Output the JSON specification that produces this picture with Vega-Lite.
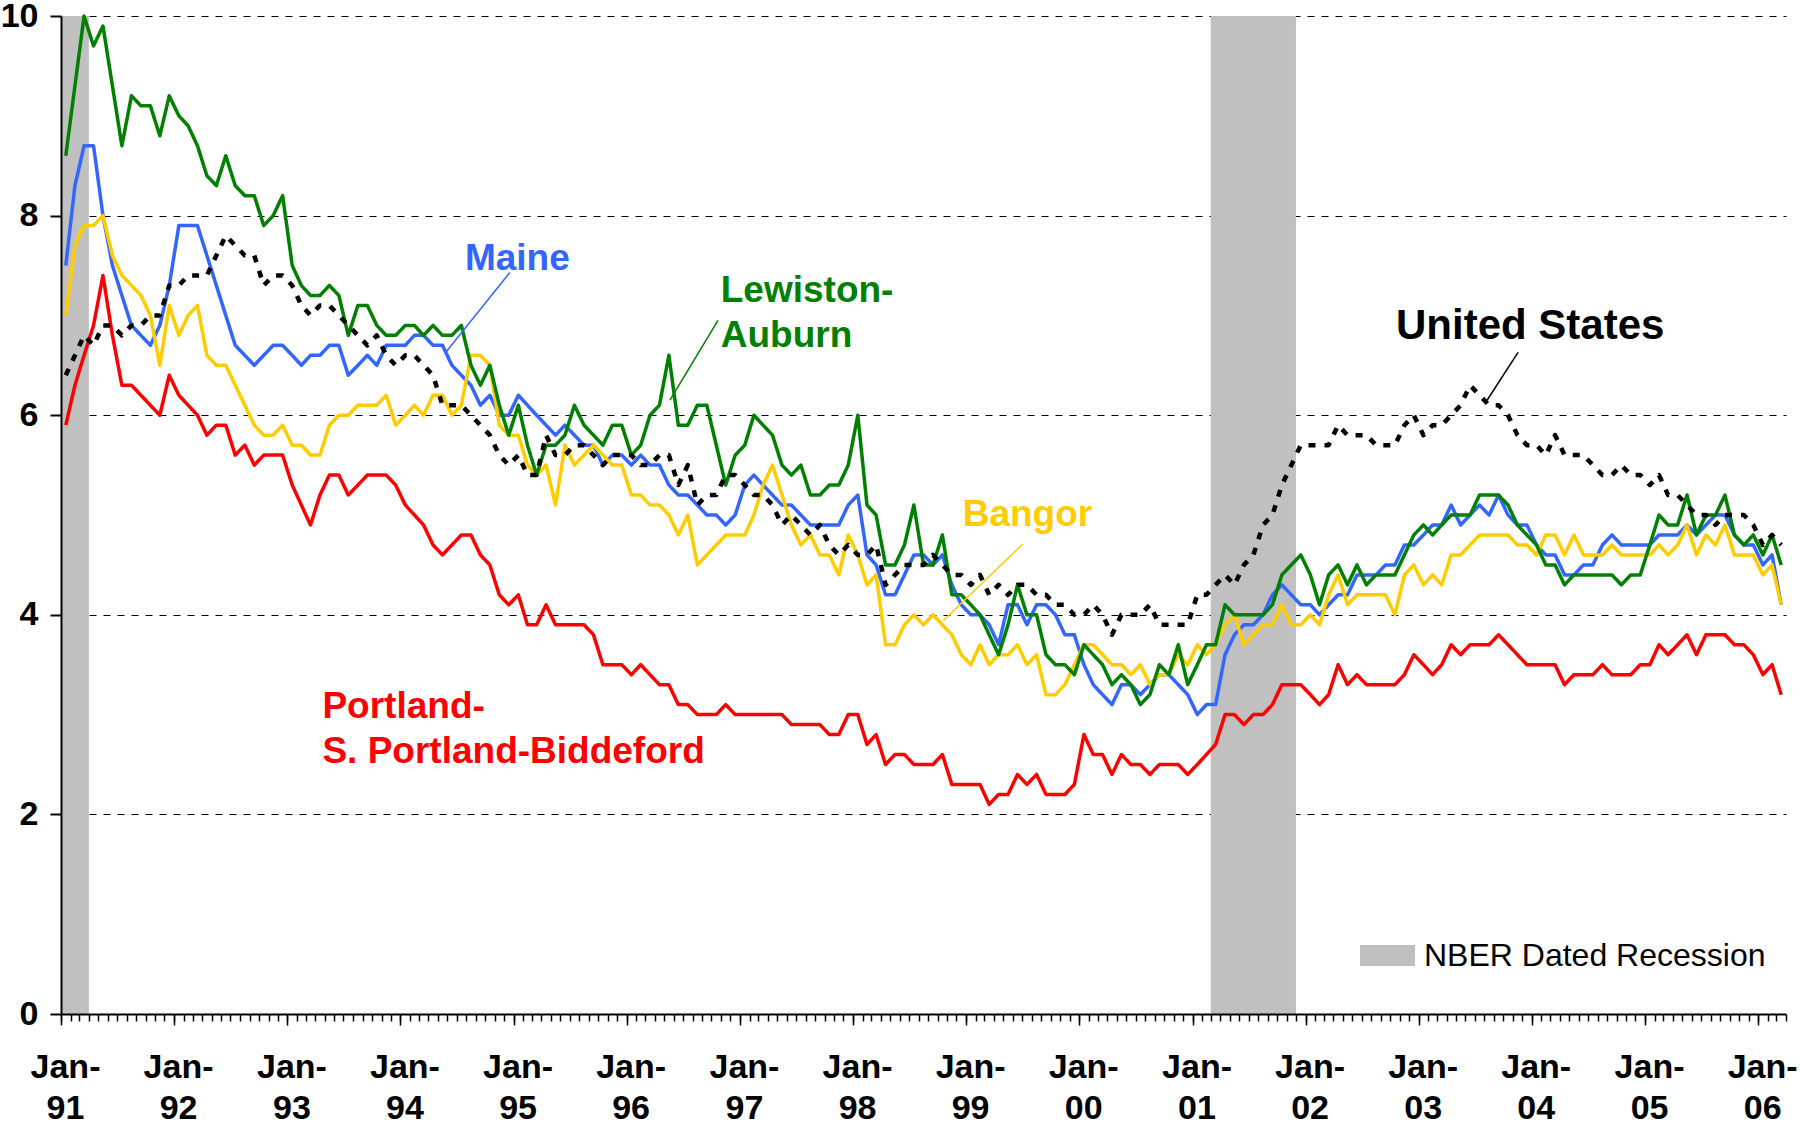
{
"$schema": "https://vega.github.io/schema/vega-lite/v6.json",
"width": 1725, "height": 998,
"autosize": {"type": "none"},
"padding": {"left": 61, "top": 16, "right": 15, "bottom": 114},
"background": "white",
"config": {"view": {"stroke": null}, "font": "Liberation Sans"},
"datasets": {
"rates": [
{"m":"1991-01","us":6.4,"maine":7.5,"lewiston":8.6,"bangor":7.0,"portland":5.9},
{"m":"1991-02","us":6.6,"maine":8.3,"lewiston":9.3,"bangor":7.7,"portland":6.3},
{"m":"1991-03","us":6.8,"maine":8.7,"lewiston":10.0,"bangor":7.9,"portland":6.6},
{"m":"1991-04","us":6.7,"maine":8.7,"lewiston":9.7,"bangor":7.9,"portland":6.9},
{"m":"1991-05","us":6.9,"maine":8.0,"lewiston":9.9,"bangor":8.0,"portland":7.4},
{"m":"1991-06","us":6.9,"maine":7.5,"lewiston":9.3,"bangor":7.6,"portland":6.8},
{"m":"1991-07","us":6.8,"maine":7.2,"lewiston":8.7,"bangor":7.4,"portland":6.3},
{"m":"1991-08","us":6.9,"maine":6.9,"lewiston":9.2,"bangor":7.3,"portland":6.3},
{"m":"1991-09","us":6.9,"maine":6.8,"lewiston":9.1,"bangor":7.2,"portland":6.2},
{"m":"1991-10","us":7.0,"maine":6.7,"lewiston":9.1,"bangor":7.0,"portland":6.1},
{"m":"1991-11","us":7.0,"maine":6.9,"lewiston":8.8,"bangor":6.5,"portland":6.0},
{"m":"1991-12","us":7.3,"maine":7.3,"lewiston":9.2,"bangor":7.1,"portland":6.4},
{"m":"1992-01","us":7.3,"maine":7.9,"lewiston":9.0,"bangor":6.8,"portland":6.2},
{"m":"1992-02","us":7.4,"maine":7.9,"lewiston":8.9,"bangor":7.0,"portland":6.1},
{"m":"1992-03","us":7.4,"maine":7.9,"lewiston":8.7,"bangor":7.1,"portland":6.0},
{"m":"1992-04","us":7.4,"maine":7.6,"lewiston":8.4,"bangor":6.6,"portland":5.8},
{"m":"1992-05","us":7.6,"maine":7.3,"lewiston":8.3,"bangor":6.5,"portland":5.9},
{"m":"1992-06","us":7.8,"maine":7.0,"lewiston":8.6,"bangor":6.5,"portland":5.9},
{"m":"1992-07","us":7.7,"maine":6.7,"lewiston":8.3,"bangor":6.3,"portland":5.6},
{"m":"1992-08","us":7.6,"maine":6.6,"lewiston":8.2,"bangor":6.1,"portland":5.7},
{"m":"1992-09","us":7.6,"maine":6.5,"lewiston":8.2,"bangor":5.9,"portland":5.5},
{"m":"1992-10","us":7.3,"maine":6.6,"lewiston":7.9,"bangor":5.8,"portland":5.6},
{"m":"1992-11","us":7.4,"maine":6.7,"lewiston":8.0,"bangor":5.8,"portland":5.6},
{"m":"1992-12","us":7.4,"maine":6.7,"lewiston":8.2,"bangor":5.9,"portland":5.6},
{"m":"1993-01","us":7.3,"maine":6.6,"lewiston":7.5,"bangor":5.7,"portland":5.3},
{"m":"1993-02","us":7.1,"maine":6.5,"lewiston":7.3,"bangor":5.7,"portland":5.1},
{"m":"1993-03","us":7.0,"maine":6.6,"lewiston":7.2,"bangor":5.6,"portland":4.9},
{"m":"1993-04","us":7.1,"maine":6.6,"lewiston":7.2,"bangor":5.6,"portland":5.2},
{"m":"1993-05","us":7.1,"maine":6.7,"lewiston":7.3,"bangor":5.9,"portland":5.4},
{"m":"1993-06","us":7.0,"maine":6.7,"lewiston":7.2,"bangor":6.0,"portland":5.4},
{"m":"1993-07","us":6.9,"maine":6.4,"lewiston":6.8,"bangor":6.0,"portland":5.2},
{"m":"1993-08","us":6.8,"maine":6.5,"lewiston":7.1,"bangor":6.1,"portland":5.3},
{"m":"1993-09","us":6.7,"maine":6.6,"lewiston":7.1,"bangor":6.1,"portland":5.4},
{"m":"1993-10","us":6.8,"maine":6.5,"lewiston":6.9,"bangor":6.1,"portland":5.4},
{"m":"1993-11","us":6.6,"maine":6.7,"lewiston":6.8,"bangor":6.2,"portland":5.4},
{"m":"1993-12","us":6.5,"maine":6.7,"lewiston":6.8,"bangor":5.9,"portland":5.3},
{"m":"1994-01","us":6.6,"maine":6.7,"lewiston":6.9,"bangor":6.0,"portland":5.1},
{"m":"1994-02","us":6.6,"maine":6.8,"lewiston":6.9,"bangor":6.1,"portland":5.0},
{"m":"1994-03","us":6.5,"maine":6.8,"lewiston":6.8,"bangor":6.0,"portland":4.9},
{"m":"1994-04","us":6.4,"maine":6.7,"lewiston":6.9,"bangor":6.2,"portland":4.7},
{"m":"1994-05","us":6.1,"maine":6.7,"lewiston":6.8,"bangor":6.2,"portland":4.6},
{"m":"1994-06","us":6.1,"maine":6.5,"lewiston":6.8,"bangor":6.0,"portland":4.7},
{"m":"1994-07","us":6.1,"maine":6.4,"lewiston":6.9,"bangor":6.1,"portland":4.8},
{"m":"1994-08","us":6.0,"maine":6.3,"lewiston":6.5,"bangor":6.6,"portland":4.8},
{"m":"1994-09","us":5.9,"maine":6.1,"lewiston":6.3,"bangor":6.6,"portland":4.6},
{"m":"1994-10","us":5.8,"maine":6.2,"lewiston":6.5,"bangor":6.5,"portland":4.5},
{"m":"1994-11","us":5.6,"maine":6.0,"lewiston":6.1,"bangor":5.9,"portland":4.2},
{"m":"1994-12","us":5.5,"maine":6.0,"lewiston":5.8,"bangor":5.8,"portland":4.1},
{"m":"1995-01","us":5.6,"maine":6.2,"lewiston":6.1,"bangor":5.8,"portland":4.2},
{"m":"1995-02","us":5.4,"maine":6.1,"lewiston":5.7,"bangor":5.5,"portland":3.9},
{"m":"1995-03","us":5.4,"maine":6.0,"lewiston":5.4,"bangor":5.4,"portland":3.9},
{"m":"1995-04","us":5.8,"maine":5.9,"lewiston":5.7,"bangor":5.5,"portland":4.1},
{"m":"1995-05","us":5.6,"maine":5.8,"lewiston":5.7,"bangor":5.1,"portland":3.9},
{"m":"1995-06","us":5.6,"maine":5.9,"lewiston":5.8,"bangor":5.7,"portland":3.9},
{"m":"1995-07","us":5.7,"maine":5.8,"lewiston":6.1,"bangor":5.5,"portland":3.9},
{"m":"1995-08","us":5.7,"maine":5.7,"lewiston":5.9,"bangor":5.6,"portland":3.9},
{"m":"1995-09","us":5.6,"maine":5.7,"lewiston":5.8,"bangor":5.7,"portland":3.8},
{"m":"1995-10","us":5.5,"maine":5.5,"lewiston":5.7,"bangor":5.6,"portland":3.5},
{"m":"1995-11","us":5.6,"maine":5.6,"lewiston":5.9,"bangor":5.5,"portland":3.5},
{"m":"1995-12","us":5.6,"maine":5.6,"lewiston":5.9,"bangor":5.5,"portland":3.5},
{"m":"1996-01","us":5.6,"maine":5.5,"lewiston":5.6,"bangor":5.2,"portland":3.4},
{"m":"1996-02","us":5.5,"maine":5.6,"lewiston":5.7,"bangor":5.2,"portland":3.5},
{"m":"1996-03","us":5.5,"maine":5.5,"lewiston":6.0,"bangor":5.1,"portland":3.4},
{"m":"1996-04","us":5.6,"maine":5.5,"lewiston":6.1,"bangor":5.1,"portland":3.3},
{"m":"1996-05","us":5.6,"maine":5.3,"lewiston":6.6,"bangor":5.0,"portland":3.3},
{"m":"1996-06","us":5.3,"maine":5.2,"lewiston":5.9,"bangor":4.8,"portland":3.1},
{"m":"1996-07","us":5.5,"maine":5.2,"lewiston":5.9,"bangor":5.0,"portland":3.1},
{"m":"1996-08","us":5.1,"maine":5.1,"lewiston":6.1,"bangor":4.5,"portland":3.0},
{"m":"1996-09","us":5.2,"maine":5.0,"lewiston":6.1,"bangor":4.6,"portland":3.0},
{"m":"1996-10","us":5.2,"maine":5.0,"lewiston":5.7,"bangor":4.7,"portland":3.0},
{"m":"1996-11","us":5.4,"maine":4.9,"lewiston":5.3,"bangor":4.8,"portland":3.1},
{"m":"1996-12","us":5.4,"maine":5.0,"lewiston":5.6,"bangor":4.8,"portland":3.0},
{"m":"1997-01","us":5.3,"maine":5.3,"lewiston":5.7,"bangor":4.8,"portland":3.0},
{"m":"1997-02","us":5.2,"maine":5.4,"lewiston":6.0,"bangor":5.0,"portland":3.0},
{"m":"1997-03","us":5.2,"maine":5.3,"lewiston":5.9,"bangor":5.3,"portland":3.0},
{"m":"1997-04","us":5.1,"maine":5.2,"lewiston":5.8,"bangor":5.5,"portland":3.0},
{"m":"1997-05","us":4.9,"maine":5.1,"lewiston":5.5,"bangor":5.2,"portland":3.0},
{"m":"1997-06","us":5.0,"maine":5.1,"lewiston":5.4,"bangor":4.9,"portland":2.9},
{"m":"1997-07","us":4.9,"maine":5.0,"lewiston":5.5,"bangor":4.7,"portland":2.9},
{"m":"1997-08","us":4.8,"maine":4.9,"lewiston":5.2,"bangor":4.8,"portland":2.9},
{"m":"1997-09","us":4.9,"maine":4.9,"lewiston":5.2,"bangor":4.6,"portland":2.9},
{"m":"1997-10","us":4.7,"maine":4.9,"lewiston":5.3,"bangor":4.6,"portland":2.8},
{"m":"1997-11","us":4.6,"maine":4.9,"lewiston":5.3,"bangor":4.4,"portland":2.8},
{"m":"1997-12","us":4.7,"maine":5.1,"lewiston":5.5,"bangor":4.8,"portland":3.0},
{"m":"1998-01","us":4.6,"maine":5.2,"lewiston":6.0,"bangor":4.6,"portland":3.0},
{"m":"1998-02","us":4.6,"maine":4.6,"lewiston":5.1,"bangor":4.3,"portland":2.7},
{"m":"1998-03","us":4.7,"maine":4.5,"lewiston":5.0,"bangor":4.4,"portland":2.8},
{"m":"1998-04","us":4.3,"maine":4.2,"lewiston":4.5,"bangor":3.7,"portland":2.5},
{"m":"1998-05","us":4.4,"maine":4.2,"lewiston":4.5,"bangor":3.7,"portland":2.6},
{"m":"1998-06","us":4.5,"maine":4.4,"lewiston":4.7,"bangor":3.9,"portland":2.6},
{"m":"1998-07","us":4.5,"maine":4.6,"lewiston":5.1,"bangor":4.0,"portland":2.5},
{"m":"1998-08","us":4.5,"maine":4.6,"lewiston":4.5,"bangor":3.9,"portland":2.5},
{"m":"1998-09","us":4.6,"maine":4.5,"lewiston":4.5,"bangor":4.0,"portland":2.5},
{"m":"1998-10","us":4.5,"maine":4.6,"lewiston":4.8,"bangor":3.9,"portland":2.6},
{"m":"1998-11","us":4.4,"maine":4.3,"lewiston":4.2,"bangor":3.8,"portland":2.3},
{"m":"1998-12","us":4.4,"maine":4.1,"lewiston":4.2,"bangor":3.6,"portland":2.3},
{"m":"1999-01","us":4.3,"maine":4.0,"lewiston":4.1,"bangor":3.5,"portland":2.3},
{"m":"1999-02","us":4.4,"maine":4.0,"lewiston":4.0,"bangor":3.7,"portland":2.3},
{"m":"1999-03","us":4.2,"maine":3.9,"lewiston":3.8,"bangor":3.5,"portland":2.1},
{"m":"1999-04","us":4.3,"maine":3.7,"lewiston":3.6,"bangor":3.6,"portland":2.2},
{"m":"1999-05","us":4.2,"maine":4.1,"lewiston":3.9,"bangor":3.6,"portland":2.2},
{"m":"1999-06","us":4.3,"maine":4.1,"lewiston":4.3,"bangor":3.7,"portland":2.4},
{"m":"1999-07","us":4.3,"maine":3.9,"lewiston":4.0,"bangor":3.5,"portland":2.3},
{"m":"1999-08","us":4.2,"maine":4.1,"lewiston":4.0,"bangor":3.6,"portland":2.4},
{"m":"1999-09","us":4.2,"maine":4.1,"lewiston":3.6,"bangor":3.2,"portland":2.2},
{"m":"1999-10","us":4.1,"maine":4.0,"lewiston":3.5,"bangor":3.2,"portland":2.2},
{"m":"1999-11","us":4.1,"maine":3.8,"lewiston":3.5,"bangor":3.3,"portland":2.2},
{"m":"1999-12","us":4.0,"maine":3.8,"lewiston":3.4,"bangor":3.5,"portland":2.3},
{"m":"2000-01","us":4.0,"maine":3.5,"lewiston":3.7,"bangor":3.7,"portland":2.8},
{"m":"2000-02","us":4.1,"maine":3.3,"lewiston":3.6,"bangor":3.7,"portland":2.6},
{"m":"2000-03","us":4.0,"maine":3.2,"lewiston":3.5,"bangor":3.6,"portland":2.6},
{"m":"2000-04","us":3.8,"maine":3.1,"lewiston":3.3,"bangor":3.5,"portland":2.4},
{"m":"2000-05","us":4.0,"maine":3.3,"lewiston":3.4,"bangor":3.5,"portland":2.6},
{"m":"2000-06","us":4.0,"maine":3.3,"lewiston":3.3,"bangor":3.4,"portland":2.5},
{"m":"2000-07","us":4.0,"maine":3.2,"lewiston":3.1,"bangor":3.5,"portland":2.5},
{"m":"2000-08","us":4.1,"maine":3.3,"lewiston":3.2,"bangor":3.3,"portland":2.4},
{"m":"2000-09","us":3.9,"maine":3.4,"lewiston":3.5,"bangor":3.4,"portland":2.5},
{"m":"2000-10","us":3.9,"maine":3.4,"lewiston":3.4,"bangor":3.4,"portland":2.5},
{"m":"2000-11","us":3.9,"maine":3.3,"lewiston":3.7,"bangor":3.6,"portland":2.5},
{"m":"2000-12","us":3.9,"maine":3.2,"lewiston":3.3,"bangor":3.5,"portland":2.4},
{"m":"2001-01","us":4.2,"maine":3.0,"lewiston":3.5,"bangor":3.7,"portland":2.5},
{"m":"2001-02","us":4.2,"maine":3.1,"lewiston":3.7,"bangor":3.6,"portland":2.6},
{"m":"2001-03","us":4.3,"maine":3.1,"lewiston":3.7,"bangor":3.7,"portland":2.7},
{"m":"2001-04","us":4.4,"maine":3.6,"lewiston":4.1,"bangor":3.9,"portland":3.0},
{"m":"2001-05","us":4.3,"maine":3.8,"lewiston":4.0,"bangor":4.0,"portland":3.0},
{"m":"2001-06","us":4.5,"maine":3.9,"lewiston":4.0,"bangor":3.7,"portland":2.9},
{"m":"2001-07","us":4.6,"maine":3.9,"lewiston":4.0,"bangor":3.8,"portland":3.0},
{"m":"2001-08","us":4.9,"maine":4.0,"lewiston":4.0,"bangor":3.9,"portland":3.0},
{"m":"2001-09","us":5.0,"maine":4.2,"lewiston":4.1,"bangor":3.9,"portland":3.1},
{"m":"2001-10","us":5.3,"maine":4.3,"lewiston":4.4,"bangor":4.1,"portland":3.3},
{"m":"2001-11","us":5.5,"maine":4.2,"lewiston":4.5,"bangor":3.9,"portland":3.3},
{"m":"2001-12","us":5.7,"maine":4.1,"lewiston":4.6,"bangor":3.9,"portland":3.3},
{"m":"2002-01","us":5.7,"maine":4.1,"lewiston":4.4,"bangor":4.0,"portland":3.2},
{"m":"2002-02","us":5.7,"maine":4.0,"lewiston":4.1,"bangor":3.9,"portland":3.1},
{"m":"2002-03","us":5.7,"maine":4.1,"lewiston":4.4,"bangor":4.2,"portland":3.2},
{"m":"2002-04","us":5.9,"maine":4.2,"lewiston":4.5,"bangor":4.4,"portland":3.5},
{"m":"2002-05","us":5.8,"maine":4.2,"lewiston":4.3,"bangor":4.1,"portland":3.3},
{"m":"2002-06","us":5.8,"maine":4.4,"lewiston":4.5,"bangor":4.2,"portland":3.4},
{"m":"2002-07","us":5.8,"maine":4.4,"lewiston":4.3,"bangor":4.2,"portland":3.3},
{"m":"2002-08","us":5.7,"maine":4.4,"lewiston":4.4,"bangor":4.2,"portland":3.3},
{"m":"2002-09","us":5.7,"maine":4.5,"lewiston":4.4,"bangor":4.2,"portland":3.3},
{"m":"2002-10","us":5.7,"maine":4.5,"lewiston":4.4,"bangor":4.0,"portland":3.3},
{"m":"2002-11","us":5.9,"maine":4.7,"lewiston":4.6,"bangor":4.4,"portland":3.4},
{"m":"2002-12","us":6.0,"maine":4.7,"lewiston":4.8,"bangor":4.5,"portland":3.6},
{"m":"2003-01","us":5.8,"maine":4.8,"lewiston":4.9,"bangor":4.3,"portland":3.5},
{"m":"2003-02","us":5.9,"maine":4.9,"lewiston":4.8,"bangor":4.4,"portland":3.4},
{"m":"2003-03","us":5.9,"maine":4.9,"lewiston":4.9,"bangor":4.3,"portland":3.5},
{"m":"2003-04","us":6.0,"maine":5.1,"lewiston":5.0,"bangor":4.6,"portland":3.7},
{"m":"2003-05","us":6.1,"maine":4.9,"lewiston":5.0,"bangor":4.6,"portland":3.6},
{"m":"2003-06","us":6.3,"maine":5.0,"lewiston":5.0,"bangor":4.7,"portland":3.7},
{"m":"2003-07","us":6.2,"maine":5.1,"lewiston":5.2,"bangor":4.8,"portland":3.7},
{"m":"2003-08","us":6.1,"maine":5.0,"lewiston":5.2,"bangor":4.8,"portland":3.7},
{"m":"2003-09","us":6.1,"maine":5.2,"lewiston":5.2,"bangor":4.8,"portland":3.8},
{"m":"2003-10","us":6.0,"maine":5.0,"lewiston":5.1,"bangor":4.8,"portland":3.7},
{"m":"2003-11","us":5.8,"maine":4.9,"lewiston":4.9,"bangor":4.7,"portland":3.6},
{"m":"2003-12","us":5.7,"maine":4.9,"lewiston":4.8,"bangor":4.7,"portland":3.5},
{"m":"2004-01","us":5.7,"maine":4.7,"lewiston":4.7,"bangor":4.6,"portland":3.5},
{"m":"2004-02","us":5.6,"maine":4.6,"lewiston":4.5,"bangor":4.8,"portland":3.5},
{"m":"2004-03","us":5.8,"maine":4.6,"lewiston":4.5,"bangor":4.8,"portland":3.5},
{"m":"2004-04","us":5.6,"maine":4.4,"lewiston":4.3,"bangor":4.6,"portland":3.3},
{"m":"2004-05","us":5.6,"maine":4.4,"lewiston":4.4,"bangor":4.8,"portland":3.4},
{"m":"2004-06","us":5.6,"maine":4.5,"lewiston":4.4,"bangor":4.6,"portland":3.4},
{"m":"2004-07","us":5.5,"maine":4.5,"lewiston":4.4,"bangor":4.6,"portland":3.4},
{"m":"2004-08","us":5.4,"maine":4.7,"lewiston":4.4,"bangor":4.6,"portland":3.5},
{"m":"2004-09","us":5.4,"maine":4.8,"lewiston":4.4,"bangor":4.7,"portland":3.4},
{"m":"2004-10","us":5.5,"maine":4.7,"lewiston":4.3,"bangor":4.6,"portland":3.4},
{"m":"2004-11","us":5.4,"maine":4.7,"lewiston":4.4,"bangor":4.6,"portland":3.4},
{"m":"2004-12","us":5.4,"maine":4.7,"lewiston":4.4,"bangor":4.6,"portland":3.5},
{"m":"2005-01","us":5.3,"maine":4.7,"lewiston":4.7,"bangor":4.6,"portland":3.5},
{"m":"2005-02","us":5.4,"maine":4.8,"lewiston":5.0,"bangor":4.7,"portland":3.7},
{"m":"2005-03","us":5.2,"maine":4.8,"lewiston":4.9,"bangor":4.6,"portland":3.6},
{"m":"2005-04","us":5.2,"maine":4.8,"lewiston":4.9,"bangor":4.7,"portland":3.7},
{"m":"2005-05","us":5.1,"maine":4.9,"lewiston":5.2,"bangor":4.9,"portland":3.8},
{"m":"2005-06","us":5.0,"maine":4.8,"lewiston":4.8,"bangor":4.6,"portland":3.6},
{"m":"2005-07","us":5.0,"maine":4.9,"lewiston":5.0,"bangor":4.8,"portland":3.8},
{"m":"2005-08","us":4.9,"maine":5.0,"lewiston":5.0,"bangor":4.7,"portland":3.8},
{"m":"2005-09","us":5.0,"maine":5.0,"lewiston":5.2,"bangor":4.9,"portland":3.8},
{"m":"2005-10","us":5.0,"maine":4.8,"lewiston":4.8,"bangor":4.6,"portland":3.7},
{"m":"2005-11","us":5.0,"maine":4.7,"lewiston":4.7,"bangor":4.6,"portland":3.7},
{"m":"2005-12","us":4.9,"maine":4.7,"lewiston":4.8,"bangor":4.6,"portland":3.6},
{"m":"2006-01","us":4.7,"maine":4.5,"lewiston":4.6,"bangor":4.4,"portland":3.4},
{"m":"2006-02","us":4.8,"maine":4.6,"lewiston":4.8,"bangor":4.5,"portland":3.5},
{"m":"2006-03","us":4.7,"maine":4.1,"lewiston":4.5,"bangor":4.1,"portland":3.2}
],
"recessions": [
{"start":"1991-01-01","end":"1991-04-01"},
{"start":"2001-03-01","end":"2001-12-01"}
],
"notes": [
{"label":"Maine","series":"maine","d":"1994-07-28","v":7.57},
{"label":"Lewiston-","series":"lewiston","d":"1996-10-31","v":7.24},
{"label":"Auburn","series":"lewiston","d":"1996-10-31","v":6.79},
{"label":"Bangor","series":"bangor","d":"1998-12-21","v":5.0},
{"label":"United States","series":"us","d":"2002-10-20","v":6.89},
{"label":"Portland-","series":"portland","d":"1993-04-24","v":3.08},
{"label":"S. Portland-Biddeford","series":"portland","d":"1993-04-24","v":2.63}
],
"leaders": [
{"series":"maine","d1":"1994-12-20","v1":7.43,"d2":"1994-05-30","v2":6.64},
{"series":"lewiston","d1":"1996-10-22","v1":6.95,"d2":"1996-05-20","v2":6.15},
{"series":"bangor","d1":"1999-07-03","v1":4.71,"d2":"1998-10-19","v2":3.94},
{"series":"us","d1":"2003-11-18","v1":6.63,"d2":"2003-08-10","v2":6.15}
]
},
"layer": [
{
"data": {"name": "recessions"},
"mark": {"type": "rect", "strokeWidth": 0},
"encoding": {
"x": {"field": "start", "type": "temporal", "scale": {"type": "utc", "domain": [{"year": 1991, "month": 1, "date": 1, "utc": true}, {"year": 2006, "month": 4, "date": 1, "utc": true}]},
"axis": {"orient": "bottom", "title": null, "grid": false, "tickCount": 15, "tickSize": 11, "tickWidth": 1.5, "tickColor": "#000000", "domain": false, "labels": false, "zindex": 1}},
"x2": {"field": "end"},
"y": {"datum": 0, "type": "quantitative", "scale": {"domain": [0, 10], "nice": false},
"axis": {"orient": "left", "grid": true, "gridColor": "#000000", "gridDash": [7, 7], "gridWidth": 1, "domain": false, "ticks": false, "labels": false, "title": null, "values": [2, 4, 6, 8, 10], "zindex": 0}},
"y2": {"datum": 10},
"fill": {"datum": "NBER Dated Recession", "type": "nominal", "scale": {"range": ["#c0c0c0"]},
"legend": {"orient": "none", "legendX": 1299, "legendY": 912, "title": null, "padding": 0, "symbolType": "M-1,-0.38H1V0.38H-1Z", "symbolSize": 3025, "symbolStrokeWidth": 0, "symbolOpacity": 1, "labelFont": "Liberation Sans", "labelFontSize": 32, "labelFontWeight": "normal", "labelColor": "#000000", "labelOffset": 9, "labelLimit": 1000}}
}
},
{
"data": {"name": "rates"},
"transform": [{"fold": ["maine", "bangor", "portland", "lewiston", "us"], "as": ["series", "rate"]}],
"mark": {"type": "line", "strokeJoin": "round", "strokeCap": "butt"},
"encoding": {
"x": {"field": "m", "timeUnit": "utcyearmonth", "type": "temporal", "bandPosition": 0.5,
"scale": {"type": "utc", "domain": [{"year": 1991, "month": 1, "date": 1, "utc": true}, {"year": 2006, "month": 4, "date": 1, "utc": true}]},
"axis": {"orient": "bottom", "title": null, "grid": false, "tickCount": 183, "domain": true, "domainColor": "#000000", "domainWidth": 2, "tickColor": "#000000", "tickWidth": 1.5, "tickSize": 7,
"labelExpr": "utcmonth(datum.value) === 0 ? ['Jan-', utcFormat(datum.value, '%y')] : ''",
"labelFont": "Liberation Sans", "labelFontWeight": "bold", "labelFontSize": 34, "labelColor": "#000000", "labelLineHeight": 41, "labelPadding": 29, "labelOffset": 4, "labelOverlap": false, "labelFlush": false, "labelBound": false, "zindex": 1}},
"y": {"field": "rate", "type": "quantitative", "scale": {"domain": [0, 10], "nice": false},
"axis": {"orient": "left", "title": null, "grid": false, "values": [0, 2, 4, 6, 8, 10], "format": "d", "domain": true, "domainColor": "#000000", "domainWidth": 2, "ticks": true, "tickColor": "#000000", "tickWidth": 2, "tickSize": 11, "labelFont": "Liberation Sans", "labelFontWeight": "bold", "labelFontSize": 34, "labelColor": "#000000", "labelPadding": 12, "zindex": 1}},
"color": {"field": "series", "type": "nominal", "scale": {"domain": ["maine", "bangor", "portland", "lewiston", "us"], "range": ["#3366ff", "#ffcc00", "#ff0000", "#008000", "#000000"]}, "legend": null},
"strokeDash": {"condition": {"test": "datum.series === 'us'", "value": [7, 9]}, "value": [1, 0]},
"strokeWidth": {"condition": {"test": "datum.series === 'us'", "value": 4.5}, "value": 3.5}
}
},
{
"data": {"name": "leaders"},
"mark": {"type": "rule", "strokeWidth": 1.5},
"encoding": {
"x": {"field": "d1", "type": "temporal", "scale": {"type": "utc", "domain": [{"year": 1991, "month": 1, "date": 1, "utc": true}, {"year": 2006, "month": 4, "date": 1, "utc": true}]}, "axis": null},
"x2": {"field": "d2"},
"y": {"field": "v1", "type": "quantitative", "scale": {"domain": [0, 10], "nice": false}, "axis": null},
"y2": {"field": "v2"},
"color": {"field": "series", "type": "nominal", "scale": {"domain": ["maine", "bangor", "portland", "lewiston", "us"], "range": ["#3366ff", "#ffcc00", "#ff0000", "#008000", "#000000"]}, "legend": null}
}
},
{
"data": {"name": "notes"},
"mark": {"type": "text", "align": "left", "baseline": "middle", "font": "Liberation Sans", "fontWeight": "bold"},
"encoding": {
"x": {"field": "d", "type": "temporal", "scale": {"type": "utc", "domain": [{"year": 1991, "month": 1, "date": 1, "utc": true}, {"year": 2006, "month": 4, "date": 1, "utc": true}]}, "axis": null},
"y": {"field": "v", "type": "quantitative", "scale": {"domain": [0, 10], "nice": false}, "axis": null},
"text": {"field": "label"},
"color": {"field": "series", "type": "nominal", "scale": {"domain": ["maine", "bangor", "portland", "lewiston", "us"], "range": ["#3366ff", "#ffcc00", "#ff0000", "#008000", "#000000"]}, "legend": null},
"size": {"condition": {"test": "datum.series === 'us'", "value": 42}, "value": 37}
}
}
],
"resolve": {"axis": {"x": "independent", "y": "independent"}}
}
